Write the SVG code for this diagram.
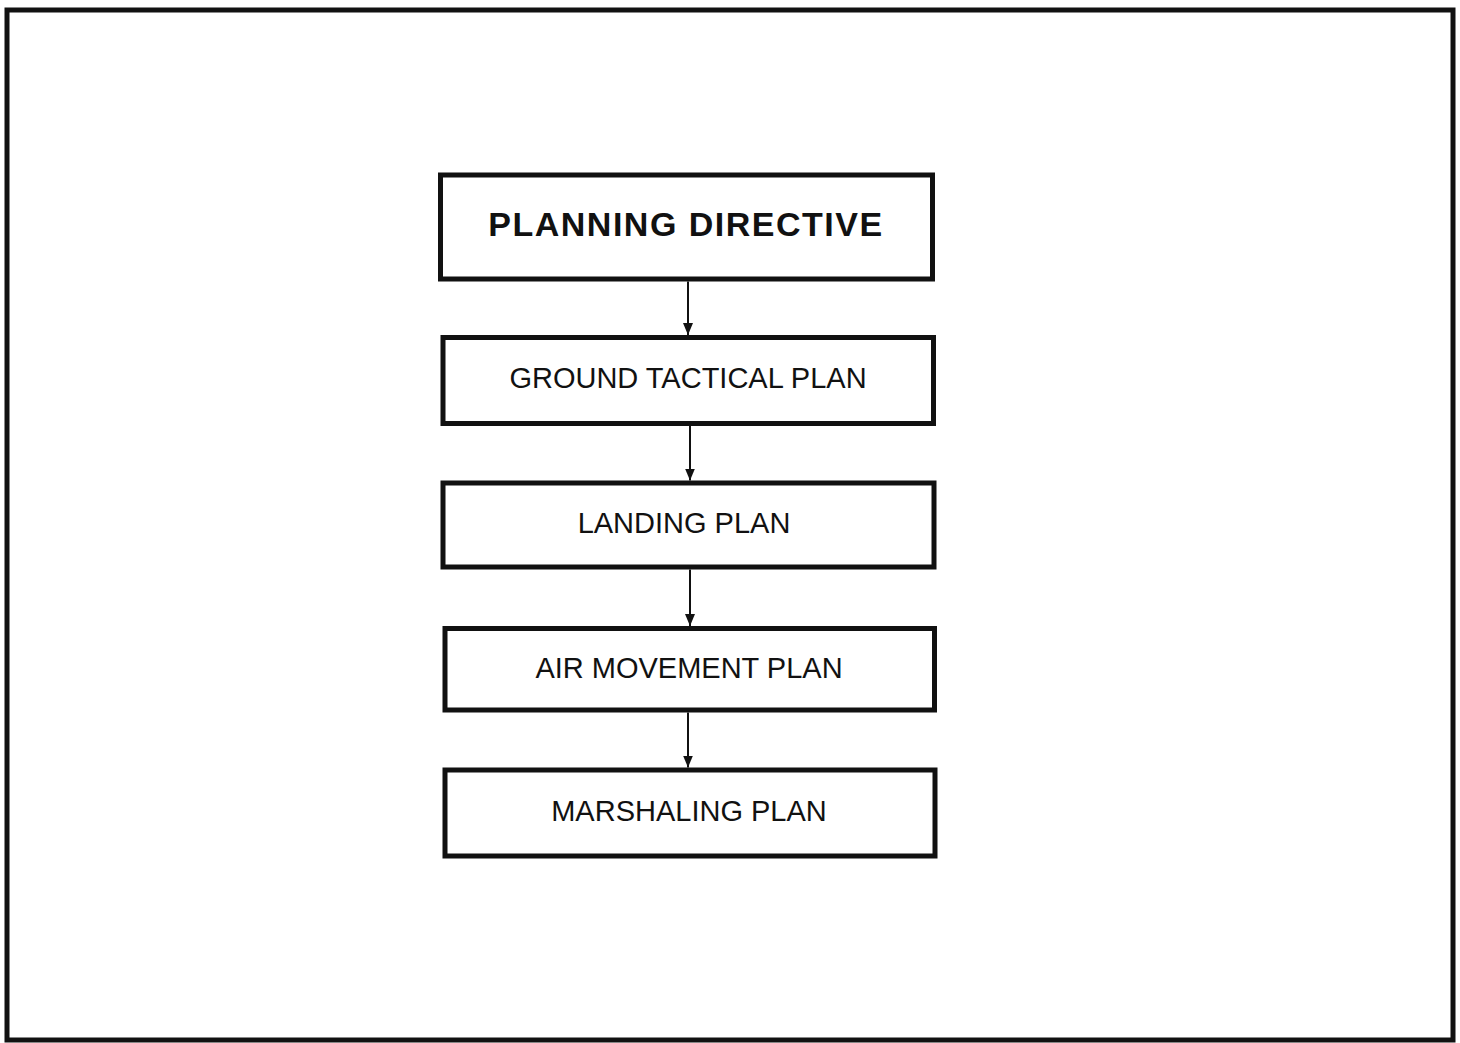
<svg xmlns="http://www.w3.org/2000/svg" width="1460" height="1043" viewBox="0 0 1460 1043">
<style>
.frame{fill:#fff;stroke:#111;stroke-width:5}
.box{fill:#fff;stroke:#111;stroke-width:5}
.lbl{font-family:"Liberation Sans",Arial,sans-serif;font-size:29px;fill:#111;text-anchor:middle}
.title{font-family:"Liberation Sans",Arial,sans-serif;font-size:34px;font-weight:bold;letter-spacing:1.5px;fill:#111;text-anchor:middle}
.conn{stroke:#111;stroke-width:2;fill:none;marker-end:url(#ah)}
</style>
<defs>
<marker id="ah" viewBox="0 0 12 10" refX="12" refY="5" markerWidth="12" markerHeight="10" markerUnits="userSpaceOnUse" orient="auto">
<path d="M0,0 L12,5 L0,10 Z" fill="#111"/>
</marker>
</defs>
<rect class="frame" x="7" y="10" width="1446" height="1030"/>
<g id="planning-directive">
<rect class="box" x="440.5" y="175" width="492" height="104"/>
<text class="title" x="686" y="236">PLANNING DIRECTIVE</text>
</g>
<g id="ground-tactical-plan">
<rect class="box" x="443" y="337.5" width="490.5" height="86"/>
<text class="lbl" x="688" y="388">GROUND TACTICAL PLAN</text>
</g>
<g id="landing-plan">
<rect class="box" x="443" y="483" width="491" height="84"/>
<text class="lbl" x="684" y="533">LANDING PLAN</text>
</g>
<g id="air-movement-plan">
<rect class="box" x="445" y="628.5" width="489.5" height="81.5"/>
<text class="lbl" x="689" y="678">AIR MOVEMENT PLAN</text>
</g>
<g id="marshaling-plan">
<rect class="box" x="445" y="770" width="490" height="86"/>
<text class="lbl" x="689" y="821">MARSHALING PLAN</text>
</g>
<g id="connectors">
<line class="conn" x1="688" y1="281.5" x2="688" y2="335"/>
<line class="conn" x1="690" y1="426" x2="690" y2="480.5"/>
<line class="conn" x1="690" y1="569.5" x2="690" y2="626"/>
<line class="conn" x1="688" y1="712.5" x2="688" y2="767.5"/>
</g>
</svg>
